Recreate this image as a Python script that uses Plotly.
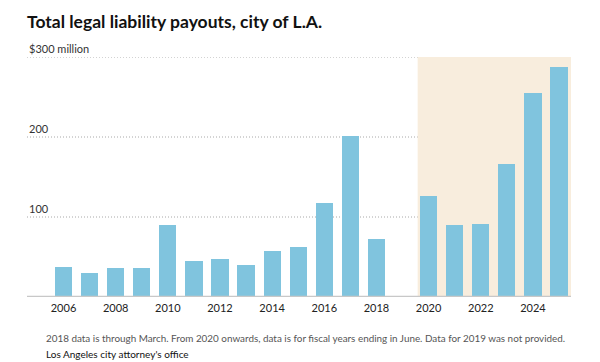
import plotly.graph_objects as go

years = [2006, 2007, 2008, 2009, 2010, 2011, 2012, 2013, 2014, 2015,
         2016, 2017, 2018, 2020, 2021, 2022, 2023, 2024, 2025]
payouts = [37, 30, 36, 36, 90, 45, 48, 40, 58, 63,
           118, 201, 72, 126, 90, 91, 166, 255, 288]
tick_years = [2006, 2008, 2010, 2012, 2014, 2016, 2018, 2020, 2022, 2024]
y_ticks = [100, 200, 300]
y_labels = ["100", "200", "$300 million"]
shade_start = 2019.58
x_range = [2004.6, 2025.46]

title = "Total legal liability payouts, city of L.A."
note = "2018 data is through March. From 2020 onwards, data is for fiscal years ending in June. Data for 2019 was not provided."
source = "Los Angeles city attorney's office"

FONT = "Lato"
# page body has an 8px default margin, so the figure is 592x354
W, H = 592, 354
L, R, T, B = 19, 29, 49, 65
PH = H - T - B

fig = go.Figure()
fig.add_trace(go.Bar(
    x=years, y=payouts, width=0.66,
    marker=dict(color="#80c4de", line=dict(width=0)),
    hoverinfo="x+y",
))

# fiscal-year shading
fig.add_shape(type="rect", xref="x", yref="y", x0=shade_start, x1=x_range[1],
              y0=0, y1=300, fillcolor="#f8eddd", line=dict(width=0), layer="below")
# dotted gridlines
for v in y_ticks:
    fig.add_shape(type="line", xref="paper", yref="y", x0=0, x1=1, y0=v, y1=v,
                  line=dict(color="#a8a8a8", width=1, dash="1px,2px"), layer="between")
# baseline
fig.add_shape(type="line", xref="paper", yref="y", x0=0, x1=1, y0=0, y1=0,
              line=dict(color="#c8c8c8", width=2.5), layer="above")

annotations = []
for v, lab in zip(y_ticks, y_labels):
    annotations.append(dict(x=0, xref="paper", y=v, yref="y", text=lab,
                            showarrow=False, xanchor="left", yanchor="bottom",
                            yshift=0, font=dict(family=FONT, size=11, color="#333")))

fig.update_layout(
    width=W, height=H,
    margin=dict(l=L, r=R, t=T, b=B),
    paper_bgcolor="white", plot_bgcolor="white",
    showlegend=False,
    bargap=0,
    title=dict(text="<b>" + title + "</b>", x=L / W, xanchor="left",
               y=1 - 14 / H, yanchor="middle",
               font=dict(family=FONT, size=17.5, color="#111")),
    xaxis=dict(range=x_range, tickvals=tick_years,
               ticktext=[str(t) for t in tick_years], showgrid=False,
               zeroline=False, showline=False, ticks="", ticklabelstandoff=3,
               tickfont=dict(family=FONT, size=11, color="#222")),
    yaxis=dict(range=[0, 300], tickvals=y_ticks, showticklabels=False,
               showgrid=False, zeroline=False, showline=False, ticks=""),
    annotations=annotations + [
        dict(x=L / W, xref="paper", y=-(330 - (H - B)) / PH, yref="paper", text=note,
             showarrow=False, xanchor="left", yanchor="middle",
             font=dict(family=FONT, size=9.9, color="#555")),
        dict(x=L / W, xref="paper", y=-(346 - (H - B)) / PH, yref="paper", text=source,
             showarrow=False, xanchor="left", yanchor="middle",
             font=dict(family=FONT, size=10, color="#111")),
    ],
)

fig.write_html("out.html")
